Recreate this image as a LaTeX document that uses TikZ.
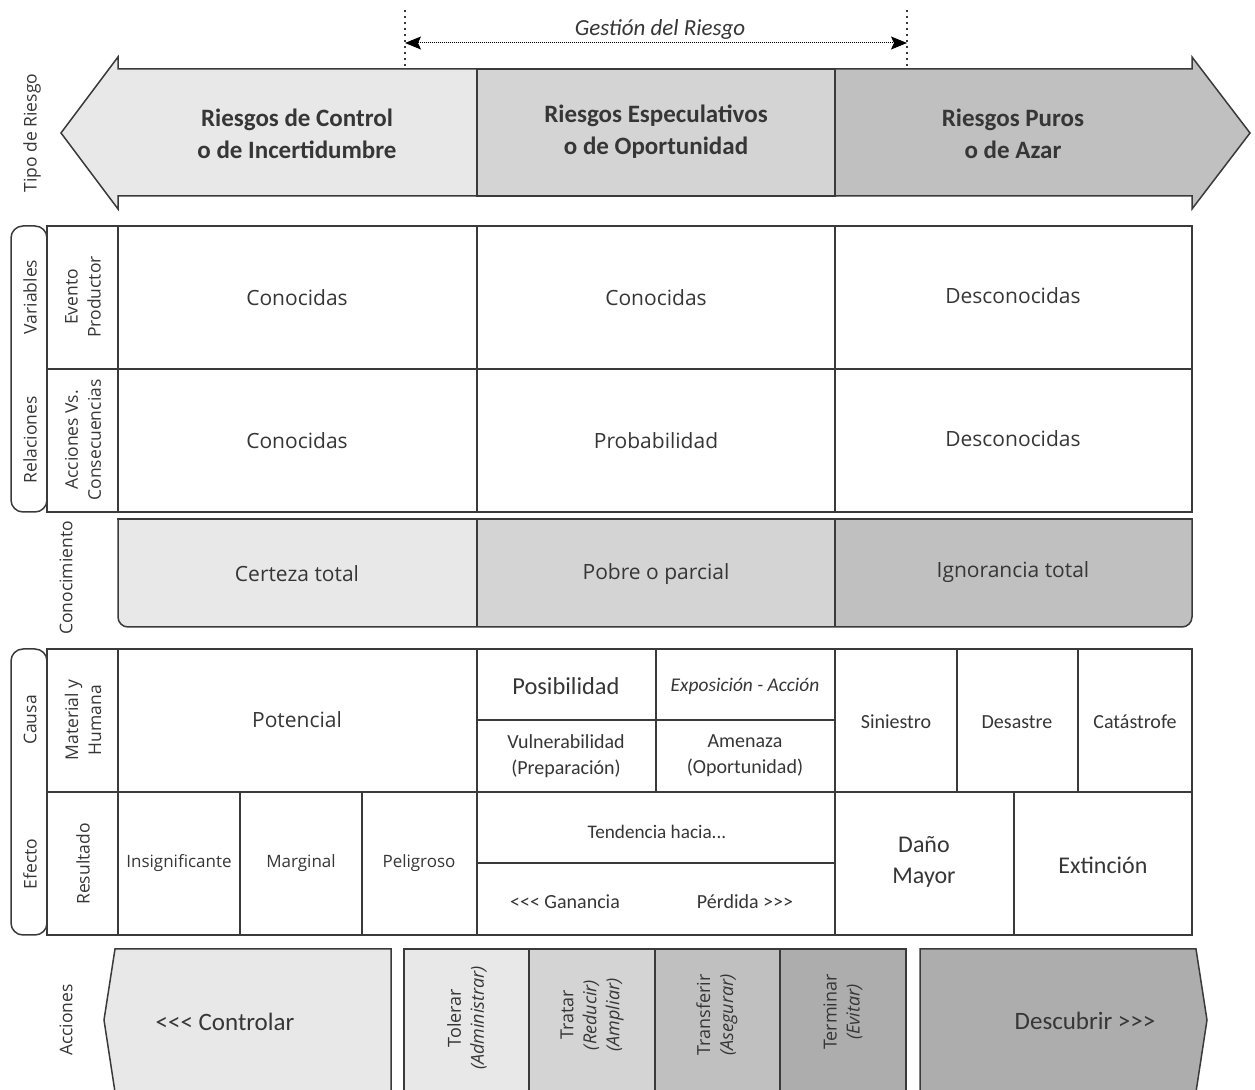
\documentclass[tikz,border=0pt]{standalone}
\usepackage{fontspec}
\setmainfont{Open Sans}
\newfontfamily\calib{Carlito}
\usetikzlibrary{arrows.meta}
\definecolor{ink}{HTML}{3A3A3A}
\definecolor{txt}{HTML}{363636}
\definecolor{gA}{HTML}{E8E8E8}
\definecolor{gB}{HTML}{D4D4D4}
\definecolor{gC}{HTML}{C0C0C0}
\definecolor{gD}{HTML}{ADADAD}
\begin{document}
\begin{tikzpicture}[x=0.5pt,y=-0.5pt,
  frame/.style={draw=ink,line width=0.75pt,line join=miter},
  lbl/.style={text=txt,align=center,inner sep=0pt},
  vlab/.style={lbl,rotate=90,font=\fontsize{8.75}{11.5}\selectfont},
  hdr/.style={lbl,font=\calib\bfseries\fontsize{12.5}{16}\selectfont},
  gest/.style={lbl,font=\calib\itshape\fontsize{11.5}{14}\selectfont},
  big/.style={lbl,font=\fontsize{10.5}{13}\selectfont},
  small/.style={lbl,font=\fontsize{8.5}{11}\selectfont},
  cal/.style={lbl,font=\calib\fontsize{10}{13}\selectfont},
  calL/.style={lbl,font=\calib\fontsize{12}{15.5}\selectfont},
  calXL/.style={lbl,font=\calib\fontsize{12.5}{15.5}\selectfont},
  vact/.style={lbl,rotate=90,font=\fontsize{9}{11.5}\selectfont},
  dotline/.style={draw=black,line width=0.5pt,dash pattern=on 0.5pt off 0.5pt},
  dotvert/.style={draw=ink,line width=0.9pt,dash pattern=on 0.9pt off 2.1pt}
]
\useasboundingbox (0,0) rectangle (1255,1090);

% ---------- risk-type band (double arrow) ----------
\filldraw[frame,fill=gA] (477,69) -- (118,69) -- (118,57) -- (61,133) -- (118,209) -- (118,196) -- (477,196) -- cycle;
\filldraw[frame,fill=gB] (477,69) rectangle (835,196);
\filldraw[frame,fill=gC] (835,69) -- (1192,69) -- (1192,57) -- (1250,133) -- (1192,209) -- (1192,196) -- (835,196) -- cycle;

\node[hdr] (tA) at (297,134) {Riesgos de Control\\o de Incertidumbre};
\node[hdr] (tB) at (656,132) {Riesgos Especulativos\\o de Oportunidad};
\node[hdr] (tC) at (1013,134) {Riesgos Puros\\o de Azar};
\node[vlab] (tipo) at (32,133) {Tipo de Riesgo};

% ---------- risk management span ----------
\coordinate (gTopL) at (405,10);
\coordinate (gBotL) at (405,69);
\coordinate (gTopR) at (907,10);
\coordinate (gBotR) at (907,69);
\coordinate (gl) at (405,43);
\coordinate (gr) at (907,43);
\draw[dotvert] (gTopL) -- (gBotL);
\draw[dotvert] (gTopR) -- (gBotR);
\draw[dotline,{Stealth[length=8pt,width=6.5pt,inset=1.5pt]}-{Stealth[length=8pt,width=6.5pt,inset=1.5pt]}] (gl) -- (gr);
\node[gest] (gestion) at (660,29) {Gestión del Riesgo};

% ---------- variables / relations table ----------
\draw[frame,rounded corners=6pt] (11,226) rectangle (47,512);
\draw[frame] (47,226) rectangle (1192,512);
\draw[frame] (118,226) -- (118,512);
\draw[frame] (477,226) -- (477,512);
\draw[frame] (835,226) -- (835,512);
\draw[frame] (47,369) -- (1192,369);

\node[vlab] (var) at (30,297) {Variables};
\node[vlab] (rel) at (30,440) {Relaciones};
\node[vlab] (evp) at (83,297) {Evento\\Productor};
\node[vlab] (avc) at (83,440) {Acciones Vs.\\Consecuencias};

\node[big] (v1) at (297,298) {Conocidas};
\node[big] (v2) at (656,298) {Conocidas};
\node[big] (v3) at (1013,296) {Desconocidas};
\node[big] (r1) at (297,441) {Conocidas};
\node[big] (r2) at (656,441) {Probabilidad};
\node[big] (r3) at (1013,439) {Desconocidas};

% ---------- knowledge band ----------
\begin{scope}
  \clip[rounded corners=5pt] (118,519) -- (118,627) -- (1192,627) -- (1192,519);
  \fill[gA] (118,519) rectangle (477,627);
  \fill[gB] (477,519) rectangle (835,627);
  \fill[gC] (835,519) rectangle (1192,627);
\end{scope}
\draw[frame,rounded corners=5pt] (118,519) -- (118,627) -- (1192,627) -- (1192,519);
\draw[frame,line cap=rect] (118,519) -- (1192,519);
\draw[frame] (477,519) -- (477,627);
\draw[frame] (835,519) -- (835,627);

\node[vlab] (con) at (66,578) {Conocimiento};
\node[big] (k1) at (297,574) {Certeza total};
\node[big] (k2) at (656,574) {Pobre o parcial};
\node[big] (k3) at (1013,572) {Ignorancia total};

% ---------- cause / effect table ----------
\draw[frame,rounded corners=6pt] (11,649) rectangle (47,935);
\draw[frame] (47,649) rectangle (1192,935);
\draw[frame] (118,649) -- (118,935);
\draw[frame] (477,649) -- (477,935);
\draw[frame] (835,649) -- (835,935);
\draw[frame] (47,792) -- (1192,792);
% upper row subdivisions
\draw[frame] (656,649) -- (656,792);
\draw[frame] (477,720) -- (835,720);
\draw[frame] (957,649) -- (957,792);
\draw[frame] (1078,649) -- (1078,792);
% lower row subdivisions
\draw[frame] (240,792) -- (240,935);
\draw[frame] (362,792) -- (362,935);
\draw[frame] (477,863) -- (835,863);
\draw[frame] (1014,792) -- (1014,935);

\node[vlab] (causa) at (30,720) {Causa};
\node[vlab] (efecto) at (30,864) {Efecto};
\node[vlab] (mh) at (83,720) {Material y\\Humana};
\node[vlab] (res) at (83,864) {Resultado};

\node[big] (pot) at (297,720) {Potencial};
\node[lbl,font=\calib\fontsize{12.2}{15}\selectfont] (pos) at (566,686) {Posibilidad};
\node[lbl,font=\calib\itshape\fontsize{9.7}{12}\selectfont] (exp) at (745,686) {Exposición - Acción};
\node[cal] (vul) at (566,756) {Vulnerabilidad\\(Preparación)};
\node[cal] (ame) at (745,756) {Amenaza\\(Oportunidad)};
\node[cal] (sin) at (896,722) {Siniestro};
\node[cal] (des) at (1017,722) {Desastre};
\node[cal] (cat) at (1135,722) {Catástrofe};

\node[small] (ins) at (179,863) {Insignificante};
\node[small] (mar) at (301,863) {Marginal};
\node[small] (pel) at (419,863) {Peligroso};
\node[cal,font=\calib\fontsize{9.6}{12}\selectfont] (ten) at (657,832) {Tendencia hacia...};
\node[cal] (gan) at (565,902) {<<< Ganancia};
\node[cal] (per) at (745,902) {Pérdida >>>};
\node[calL] (dan) at (924,862) {Daño\\Mayor};
\node[calL] (ext) at (1103,865) {Extinción};

% ---------- actions band ----------
\node[vlab] (acc) at (66,1020) {Acciones};
\filldraw[frame,fill=gA] (115,949) -- (391,949) -- (391,1092) -- (115,1092) -- (104,1020) -- cycle;
\filldraw[frame,fill=gA] (404,949) rectangle (529,1092);
\filldraw[frame,fill=gB] (529,949) rectangle (655,1092);
\filldraw[frame,fill=gC] (655,949) rectangle (780,1092);
\filldraw[frame,fill=gD] (780,949) rectangle (906,1092);
\filldraw[frame,fill=gD] (920,949) -- (1196,949) -- (1207,1020) -- (1196,1092) -- (920,1092) -- cycle;

\node[calXL] (ctl) at (225,1022) {<<< Controlar};
\node[vact] (tol) at (467,1018) {Tolerar\\\textit{(Administrar)}};
\node[vact] (tra) at (592,1015) {Tratar\\\textit{(Reducir)}\\\textit{(Ampliar)}};
\node[vact] (tsf) at (717,1015) {Transferir\\\textit{(Asegurar)}};
\node[vact] (ter) at (843,1012) {Terminar\\\textit{(Evitar)}};
\node[calXL] (dsc) at (1085,1021) {Descubrir >>>};
\end{tikzpicture}
\end{document}
